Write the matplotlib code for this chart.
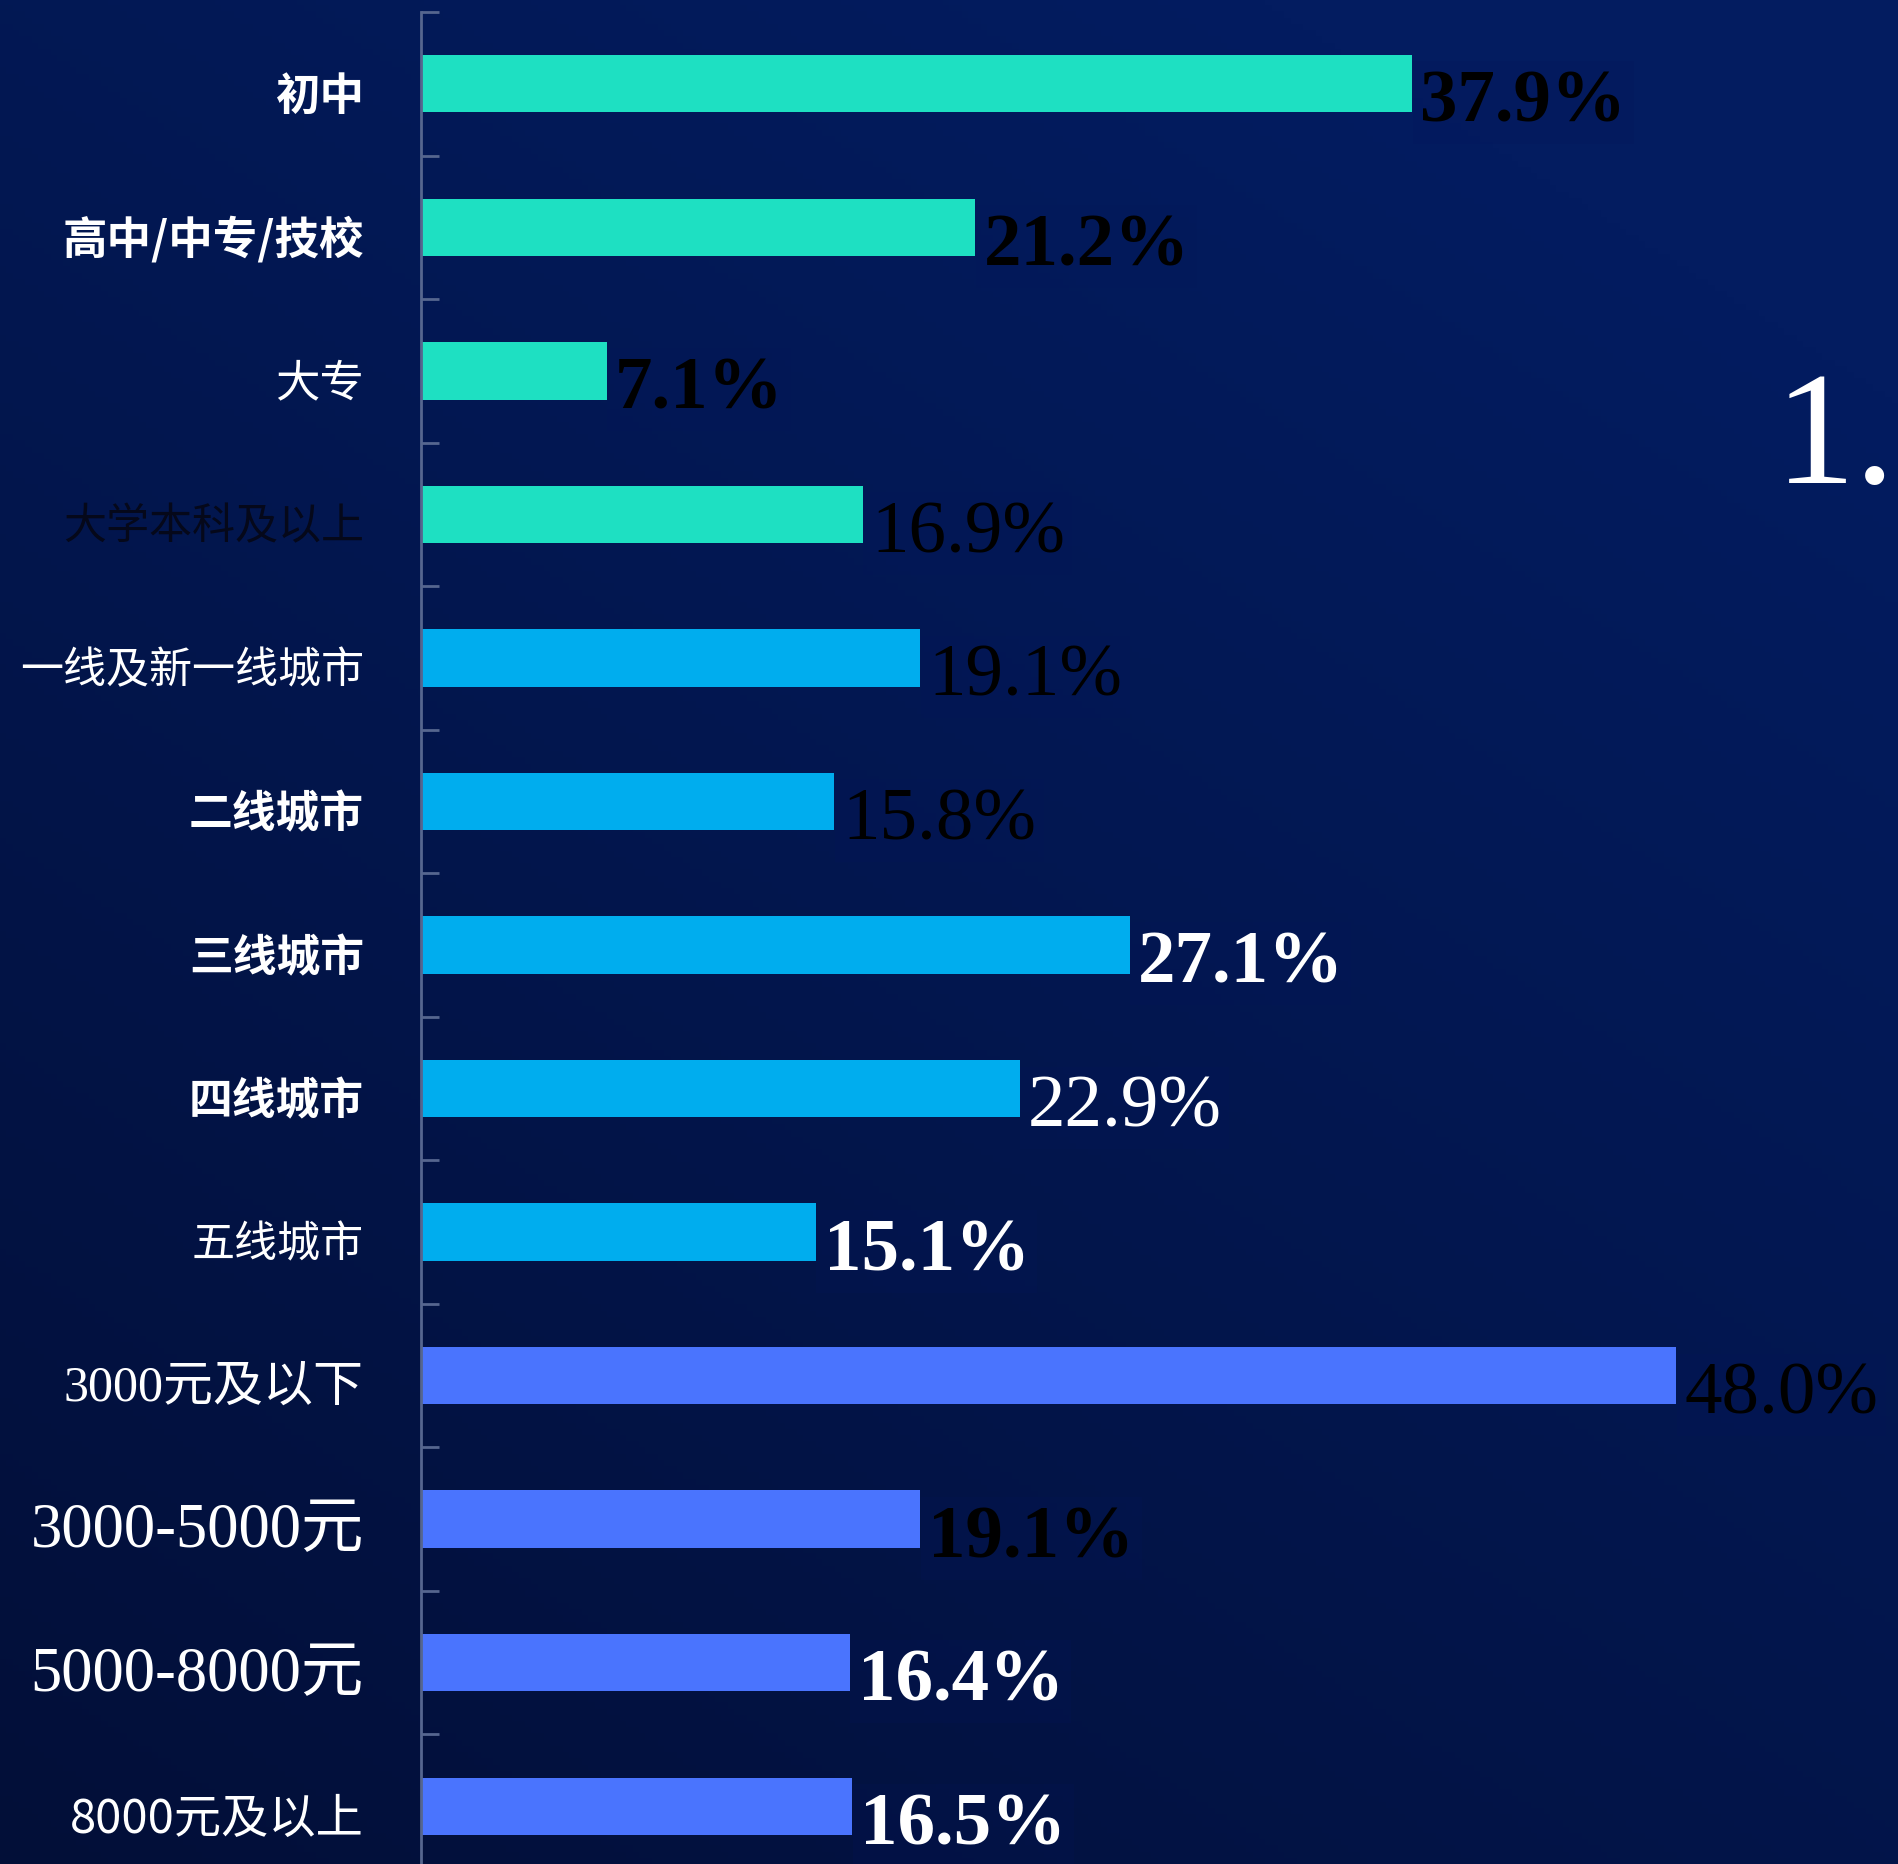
import numpy as np
import matplotlib.pyplot as plt
from matplotlib.colors import to_rgb

# data
categories = ['初中', '高中/中专/技校', '大专', '大学本科及以上',
              '一线及新一线城市', '二线城市', '三线城市', '四线城市', '五线城市',
              '3000元及以下', '3000-5000元', '5000-8000元', '8000元及以上']
values = [37.9, 21.2, 7.1, 16.9, 19.1, 15.8, 27.1, 22.9, 15.1, 48.0, 19.1, 16.4, 16.5]
group = ['edu'] * 4 + ['city'] * 5 + ['income'] * 4

group_colors = {'edu': '#1ee0c2', 'city': '#00adee', 'income': '#4a74fe'}

# label styles (they vary row by row in the original)
cjk = ['Noto Sans CJK SC']
serif_cjk = ['Liberation Serif', 'Noto Sans CJK SC']
cat_style = [
    dict(family=cjk, weight='bold', size=32, color='white'),
    dict(family=cjk, weight='bold', size=32, color='white'),
    dict(family=cjk, weight='light', size=32, color='white'),
    dict(family=cjk, weight='light', size=31, color='#05081a'),
    dict(family=cjk, weight='light', size=31, color='white'),
    dict(family=cjk, weight='bold', size=31.5, color='white'),
    dict(family=cjk, weight='bold', size=31.5, color='white'),
    dict(family=cjk, weight='bold', size=31.5, color='white'),
    dict(family=cjk, weight='light', size=31, color='white'),
    dict(family=serif_cjk, weight='normal', size=36, color='white'),
    dict(family=serif_cjk, weight='normal', size=45, color='white'),
    dict(family=serif_cjk, weight='normal', size=45, color='white'),
    dict(family=cjk, weight='normal', size=34, color='white'),
]
val_bold = [True, True, True, False, False, False, True, False, True, False, True, True, True]
val_color = ['black'] * 6 + ['white'] * 3 + ['black'] * 2 + ['white'] * 2

W, H = 1898, 1865
fig = plt.figure(figsize=(W / 100, H / 100), dpi=100)

# background gradient, darker toward bottom left
bg = fig.add_axes([0, 0, 1, 1])
bg.axis('off')
yy, xx = np.mgrid[0:1:300j, 0:1:300j]
t = np.clip(0.45 * xx + 0.7 * (1 - yy), 0, 1)
c0 = np.array(to_rgb('#020f38'))
c1 = np.array(to_rgb('#031c60'))
img = c0 + t[..., None] * (c1 - c0)
bg.imshow(img, aspect='auto', extent=[0, 1, 0, 1])
bg.set_xlim(0, 1)
bg.set_ylim(0, 1)

x0 = 421
px_per = 26.15
ax = fig.add_axes([x0 / W, 1 - 1879 / H, 1 - x0 / W, 1866 / H])
ax.patch.set_alpha(0)

y = np.arange(len(categories))
ax.barh(y, values, height=0.4, color=[group_colors[g] for g in group], zorder=2)
ax.set_ylim(len(categories) - 0.5, -0.5)
ax.set_xlim(0, (W - x0) / px_per)

for s in ['top', 'right', 'bottom']:
    ax.spines[s].set_visible(False)
ax.spines['left'].set_color('#56668f')
ax.spines['left'].set_linewidth(2)
ax.set_xticks([])
ax.set_yticks(np.arange(-0.5, len(categories), 1))
ax.set_yticklabels([])
ax.tick_params(axis='y', direction='in', length=13, width=2, color='#56668f')

for i, (c, st) in enumerate(zip(categories, cat_style)):
    ax.annotate(c, xy=(0, i), xytext=(-57, -12), textcoords='offset pixels',
                ha='right', va='center', annotation_clip=False, **st)

for i, v in enumerate(values):
    ax.annotate(f'{v:.1f}%', xy=(v, i), xytext=(8, -37), textcoords='offset pixels',
                ha='left', va='baseline', family='Liberation Serif', fontsize=54,
                weight='bold' if val_bold[i] else 'normal', color=val_color[i],
                annotation_clip=False, zorder=4,
                bbox=dict(boxstyle='square,pad=0.1', fc='#03155a', ec='none', alpha=0.2))

# partial text at the right edge of the original
fig.text(1896 / W, 1 - 483 / H, '1.', family='Liberation Serif', fontsize=116,
         color='white', ha='right', va='baseline')

fig.savefig('out.png', dpi=100)
